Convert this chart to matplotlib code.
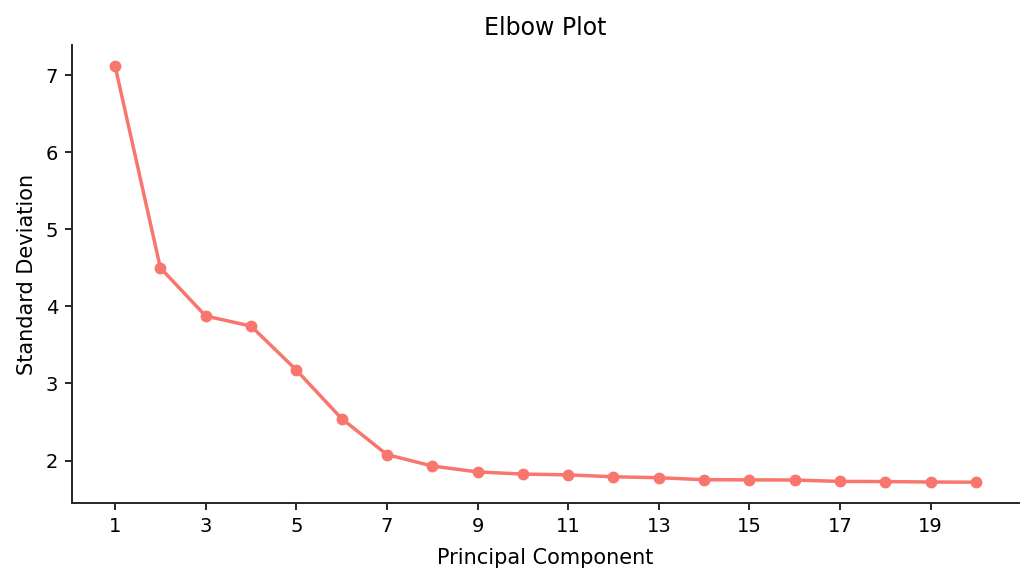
import matplotlib
matplotlib.use("Agg")
import matplotlib.pyplot as plt

components = list(range(1, 21))
std_dev = [7.12, 4.50, 3.875, 3.745, 3.175, 2.545, 2.078, 1.93, 1.853, 1.825,
           1.815, 1.79, 1.778, 1.752, 1.75, 1.748, 1.73, 1.728, 1.722, 1.72]
xticks = list(range(1, 21, 2))

color = "#F8766D"

fig = plt.figure(figsize=(10.34, 5.84), dpi=100)
ax = fig.add_axes([72/1034, 81/584, (1019-72)/1034, (503-45)/584])
ax.plot(components, std_dev, color=color, linewidth=2.5, marker="o", markersize=7.5)
ax.set_xticks(xticks)
ax.set_yticks([2, 3, 4, 5, 6, 7])
ax.tick_params(labelsize=14, width=1.4, length=5, pad=5, color="#262626", labelcolor="black")
for s in ["top", "right"]:
    ax.spines[s].set_visible(False)
for s in ["left", "bottom"]:
    ax.spines[s].set_linewidth(1.4)
    ax.spines[s].set_color("#262626")
ax.set_xlabel("Principal Component", fontsize=15, labelpad=9)
ax.set_ylabel("Standard Deviation", fontsize=15, labelpad=6.5)
ax.set_title("Elbow Plot", fontsize=17, pad=7)
fig.savefig("out.png", dpi=100)
